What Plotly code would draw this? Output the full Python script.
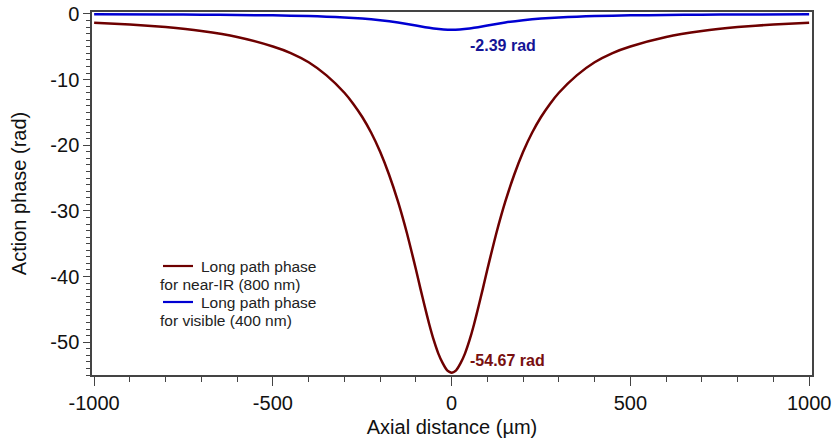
import plotly.graph_objects as go

# Axial distance (µm)
z_red = [-1000, -900, -800, -700, -600, -500, -450, -400, -350, -300, -275, -250, -225, -200, -175, -150, -125,
         -112.5, -100, -87.5, -75, -62.5, -50, -37.5, -25, -12.5, 0,
         12.5, 25, 37.5, 50, 62.5, 75, 87.5, 100, 112.5,
         125, 150, 175, 200, 225, 250, 275, 300, 350, 400, 450, 500, 600, 700, 800, 900, 1000]
phase_red = [-1.32, -1.6, -2.0, -2.6, -3.5, -4.95, -5.95, -7.35, -9.35, -12.0, -13.7, -15.7, -18.1, -21.0, -24.5, -28.6, -33.4,
             -36.1, -38.9, -41.8, -44.6, -47.3, -49.7, -51.7, -53.2, -54.3, -54.67,
             -54.3, -53.2, -51.7, -49.7, -47.3, -44.6, -41.8, -38.9, -36.1,
             -33.4, -28.6, -24.5, -21.0, -18.1, -15.7, -13.7, -12.0, -9.35, -7.35, -5.95, -4.95, -3.5, -2.6, -2.0, -1.6, -1.32]

z_blue = [-1000, -800, -700, -600, -500, -400, -350, -300, -250, -200, -150, -100, -50, 0,
          50, 100, 150, 200, 250, 300, 350, 400, 500, 600, 700, 800, 1000]
phase_blue = [-0.06, -0.09, -0.11, -0.15, -0.21, -0.32, -0.41, -0.53, -0.7, -0.95, -1.3, -1.75, -2.2, -2.39,
              -2.2, -1.75, -1.3, -0.95, -0.7, -0.53, -0.41, -0.32, -0.21, -0.15, -0.11, -0.09, -0.06]

x_ticks = [-1000, -500, 0, 500, 1000]
x_ticktext = ["-1000", "-500", "0", "500", "1000"]
y_ticks = [0, -10, -20, -30, -40, -50]
y_ticktext = ["0", "-10", "-20", "-30", "-40", "-50"]

RED = "rgb(110,0,0)"
BLUE = "rgb(0,0,210)"
FONT = "Arial, Liberation Sans, sans-serif"

fig = go.Figure()
fig.add_trace(go.Scatter(x=z_red, y=phase_red, mode="lines", name="Long path phase for near-IR (800 nm)",
                         line=dict(color=RED, width=2.5, shape="spline", smoothing=0.5), showlegend=False))
fig.add_trace(go.Scatter(x=z_blue, y=phase_blue, mode="lines", name="Long path phase for visible (400 nm)",
                         line=dict(color=BLUE, width=2.5, shape="spline", smoothing=0.5), showlegend=False))

axis_common = dict(showline=True, linecolor="#444", linewidth=1.5, mirror=True, showgrid=False, zeroline=False,
                   automargin=False,
                   ticks="outside", tickcolor="#444", tickfont=dict(family=FONT, size=20, color="#111"))

fig.update_xaxes(range=[-1006, 1008], tickvals=x_ticks, ticktext=x_ticktext, ticklen=9, tickwidth=1.3,
                 minor=dict(dtick=100, ticks="outside", ticklen=5, tickcolor="#444", tickwidth=1.2),
                 title=dict(text="Axial distance (µm)", font=dict(family=FONT, size=20, color="#111"), standoff=7),
                 **axis_common)
fig.update_yaxes(range=[-55.0, 0.3], tickvals=y_ticks, ticktext=y_ticktext, ticklen=7, tickwidth=1.3,
                 minor=dict(dtick=1, ticks="outside", ticklen=4, tickcolor="#444", tickwidth=1),
                 title=dict(text="Action phase (rad)", font=dict(family=FONT, size=20, color="#111"), standoff=18),
                 **axis_common)

ann = []
ann.append(dict(x=0, y=-2.39, xref="x", yref="y", text="<b>-2.39 rad</b>", showarrow=False,
                xanchor="left", yanchor="top", xshift=16, yshift=-5, font=dict(family=FONT, size=16, color="rgb(20,20,150)")))
ann.append(dict(x=0, y=-54.67, xref="x", yref="y", text="<b>-54.67 rad</b>", showarrow=False,
                xanchor="left", yanchor="middle", xshift=16, yshift=12, font=dict(family=FONT, size=16, color="rgb(120,15,15)")))

# manual legend (pixel layout converted to paper coords)
W, H = 838, 443
L, R, T, B = 92, 26, 12, 68
pw, ph = W - L - R, H - T - B
def px(x):
    return (x - L) / pw
def py(y):
    return 1 - (y - T) / ph

legend_items = [("Long path phase", "for near-IR (800 nm)", RED, 266, 284),
                ("Long path phase", "for visible (400 nm)", BLUE, 302, 320)]
shapes = []
for t1, t2, col, y1, y2 in legend_items:
    shapes.append(dict(type="line", xref="paper", yref="paper", x0=px(163), x1=px(193), y0=py(y1), y1=py(y1),
                       line=dict(color=col, width=2.2)))
    ann.append(dict(x=px(199), y=py(y1), xref="paper", yref="paper", text=t1, showarrow=False,
                    xanchor="left", yanchor="middle", font=dict(family=FONT, size=15.5, color="#222")))
    ann.append(dict(x=px(158), y=py(y2), xref="paper", yref="paper", text=t2, showarrow=False,
                    xanchor="left", yanchor="middle", font=dict(family=FONT, size=15.5, color="#222")))

fig.update_layout(width=W, height=H, margin=dict(l=L, r=R, t=T, b=B), plot_bgcolor="white", paper_bgcolor="white",
                  annotations=ann, shapes=shapes, showlegend=False)

fig.write_html("out.html")
